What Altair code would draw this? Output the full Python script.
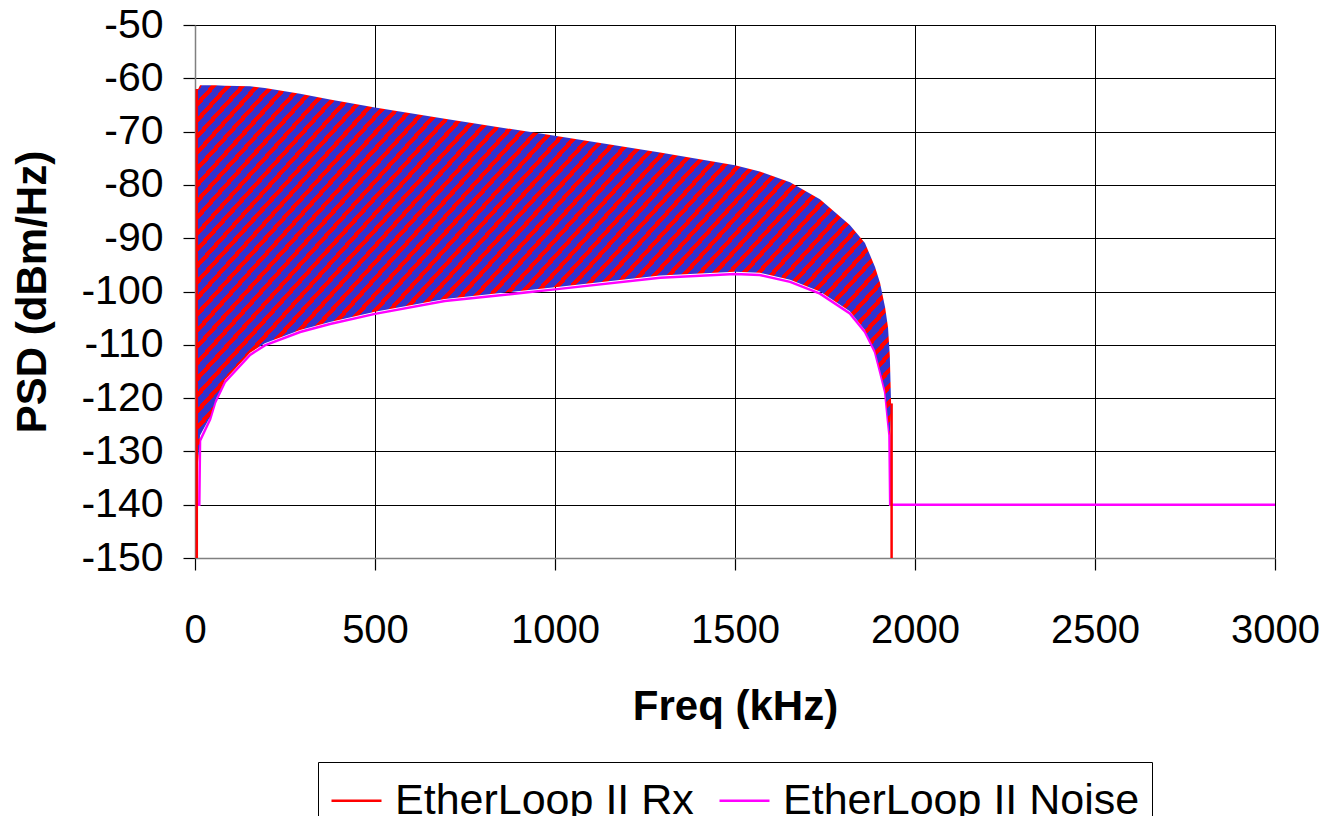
import altair as alt
import pandas as pd
import math

# ---- data ----
band_freq = [5, 14, 42, 56, 83, 153, 194, 292, 375, 500, 694, 1000, 1292, 1500,
             1569, 1653, 1736, 1819, 1861, 1889, 1903, 1917, 1925, 1930, 1934]
band_upper = [-62.5, -61.3, -61.3, -61.3, -61.4, -61.5, -61.8, -62.9, -64.0, -65.5,
              -67.6, -70.8, -73.9, -76.3, -77.5, -79.5, -82.7, -87.5, -90.9, -95.4,
              -98.4, -103.0, -106.7, -112.0, -122.0]
band_lower = [-135.0, -127.0, -123.5, -120.4, -116.6, -111.5, -109.7, -107.2, -105.7,
              -103.8, -101.4, -99.2, -97.0, -96.3, -96.5, -97.8, -100.0, -103.7,
              -107.2, -111.0, -114.7, -118.5, -124.0, -127.0, -122.0]

noise_freq = [2, 12, 14, 42, 56, 83, 153, 194, 292, 375, 500, 694, 1000, 1292, 1500,
              1569, 1653, 1736, 1819, 1861, 1889, 1903, 1917, 1925, 1929, 1931, 3000]
noise_psd = [-140, -140, -128, -124, -120.8, -117, -111.9, -110.1, -107.6, -106.1,
             -104.2, -101.8, -99.6, -97.4, -96.7, -96.9, -98.2, -100.4, -104.1,
             -107.6, -111.4, -115.1, -118.9, -124.4, -127, -140, -140]

rx_freq = [5, 5, 1935, 1935]
rx_psd = [-150, -62, -121, -150]
rx_seg = [0, 0, 1, 1]

x_ticks = [0, 500, 1000, 1500, 2000, 2500, 3000]
y_ticks = [-150, -140, -130, -120, -110, -100, -90, -80, -70, -60, -50]

RX = "EtherLoop II Rx"
NOISE = "EtherLoop II Noise"

RED = "#FF0000"
BLUE = "#3333CC"
MAGENTA = "#FF00FF"
FONT = "Liberation Sans"

band = pd.DataFrame({"freq": band_freq, "upper": band_upper, "lower": band_lower})
noise = pd.DataFrame({"freq": noise_freq, "psd": noise_psd, "series": NOISE,
                      "ord": list(range(len(noise_freq))), "seg": 0})
rx = pd.DataFrame({"freq": rx_freq, "psd": rx_psd, "series": RX,
                   "ord": list(range(len(rx_freq))), "seg": rx_seg})

# ---- striped fill via a hard-stop linear gradient (objectBoundingBox units) ----
PW, PH = 1080, 533
bbox_w = (max(band_freq) - min(band_freq)) / 3000 * PW
bbox_h = (max(band_upper) - min(band_lower)) / 100 * PH
theta = math.radians(48)
k = bbox_h / (bbox_w * math.tan(theta))
ga = (1 + k) / (1 + k * k)
gb = k * ga
period_px = 14.5
n_stripes = int(round(bbox_w * (ga * ga + gb * gb) / ga / period_px))
red_frac = 0.4
stops = []
for i in range(n_stripes):
    o0 = i / n_stripes
    o1 = (i + red_frac) / n_stripes
    o2 = (i + 1) / n_stripes
    stops += [alt.GradientStop(offset=o0, color=RED),
              alt.GradientStop(offset=o1, color=RED),
              alt.GradientStop(offset=o1, color=BLUE),
              alt.GradientStop(offset=min(o2, 1.0), color=BLUE)]
grad = alt.Gradient(gradient="linear", stops=stops, x1=0, y1=0, x2=ga, y2=gb)

label_expr = "'' + datum.value"

x_enc = alt.X("freq:Q", scale=alt.Scale(domain=[0, 3000], nice=False),
              axis=alt.Axis(values=x_ticks, title="Freq (kHz)", labelExpr=label_expr,
                            labelFontSize=40, titleFontSize=42, labelPadding=40,
                            labelFlush=False, titleY=148, titleBaseline="middle"))
y_scale = alt.Scale(domain=[-150, -50], nice=False)

area = alt.Chart(band).mark_area(color=grad, opacity=1, interpolate="linear").encode(
    x=x_enc,
    y=alt.Y("upper:Q", scale=y_scale,
            axis=alt.Axis(values=y_ticks, title="PSD (dBm/Hz)", labelExpr=label_expr,
                          labelFontSize=41, titleFontSize=42, labelPadding=20,
                          labelFlush=False, titleX=-163, titleBaseline="middle")),
    y2="lower:Q",
)

color = alt.Color("series:N",
                  scale=alt.Scale(domain=[RX, NOISE], range=[RED, MAGENTA]),
                  legend=alt.Legend(title=None, orient="none", legendX=123, legendY=737,
                                    direction="horizontal", symbolType="stroke",
                                    symbolSize=2500, symbolStrokeWidth=2.5,
                                    labelFontSize=43, labelFont=FONT, labelOffset=12,
                                    labelLimit=1000, columnPadding=20, padding=12,
                                    strokeColor="black", fillColor="white",
                                    labelColor="black"))

noise_line = alt.Chart(noise).mark_line(strokeWidth=2.5, interpolate="linear").encode(
    x="freq:Q", y=alt.Y("psd:Q", scale=y_scale), color=color, order="ord:Q",
    detail="seg:N")
rx_line = alt.Chart(rx).mark_line(strokeWidth=2.5, interpolate="linear").encode(
    x="freq:Q", y=alt.Y("psd:Q", scale=y_scale), color=color, order="ord:Q",
    detail="seg:N")

chart = alt.layer(noise_line, area, rx_line).properties(
    width=PW, height=PH,
    autosize=alt.AutoSizeParams(type="none"),
    padding={"left": 187, "top": 17, "right": 46, "bottom": 258},
    background="white",
).configure_view(stroke="#808080", strokeWidth=1).configure_axis(
    labelFont=FONT, titleFont=FONT, labelColor="black", titleColor="black",
    titleFontWeight="bold", grid=True, gridColor="black", gridWidth=1, gridOpacity=1,
    domainColor="#808080", domainWidth=1.5, tickColor="black", tickSize=12,
    tickWidth=1.2,
)

chart.save("out.html", embed_options={"renderer": "svg", "actions": False})
